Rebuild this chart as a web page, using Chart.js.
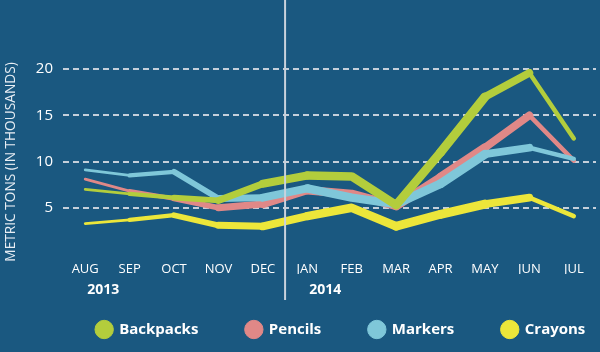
<!DOCTYPE html>
<html>
<head>
<meta charset="utf-8">
<script src="https://cdn.jsdelivr.net/npm/chart.js@4"></script>
<style>
  html, body { margin: 0; padding: 0; background: #1a5880; }
  #wrap { width: 600px; height: 352px; }
</style>
</head>
<body>
<div id="wrap"><canvas id="chart" width="600" height="352"></canvas></div>
<script>
const months = ["AUG", "SEP", "OCT", "NOV", "DEC", "JAN", "FEB", "MAR", "APR", "MAY", "JUN", "JUL"];
const years = [{ label: "2013", index: 0 }, { label: "2014", index: 5 }];
const backpacks = [7.0, 6.5, 6.1, 5.8, 7.6, 8.5, 8.4, 5.3, 11.0, 17.0, 19.6, 12.5];
const pencils = [8.1, 6.8, 6.0, 5.0, 5.4, 6.9, 6.5, 5.2, 8.3, 11.5, 15.0, 10.1];
const markers = [9.1, 8.5, 8.9, 6.0, 6.1, 7.1, 6.1, 5.4, 7.6, 10.8, 11.5, 10.3];
const crayons = [3.3, 3.7, 4.2, 3.1, 3.0, 4.1, 5.0, 3.0, 4.3, 5.4, 6.1, 4.1];
const yTicks = [5, 10, 15, 20];

const FONT = "'Open Sans', sans-serif";
// brush-like stroke: thin at the start, thick in the middle, thin at the end
const segWidths = [2, 3.5, 5, 6.5, 7.5, 8.5, 8.5, 8.5, 9, 9, 6.5, 2.5];

function serie(label, data, color, order) {
  return {
    label,
    data,
    order,
    borderColor: color,
    backgroundColor: color,
    borderCapStyle: "round",
    borderJoinStyle: "round",
    pointRadius: 0,
    tension: 0,
    fill: false,
    segment: {
      borderWidth: (ctx) => (segWidths[ctx.p0DataIndex] + segWidths[ctx.p1DataIndex]) / 2,
    },
  };
}

const extras = {
  id: "extras",
  afterLayout(chart) {
    // legend sits a bit right of centre in the original
    chart.legend.left += 43;
    chart.legend.right += 43;
  },
  afterDraw(chart) {
    const c = chart.ctx;
    const x = chart.scales.x;
    // separator between years
    const sepX = (x.getPixelForValue(4) + x.getPixelForValue(5)) / 2;
    c.save();
    c.strokeStyle = "#c9d2dc";
    c.lineWidth = 2;
    c.beginPath();
    c.moveTo(sepX, 0);
    c.lineTo(sepX, 300);
    c.stroke();

    // year labels
    c.fillStyle = "#ffffff";
    c.font = "bold 14px " + FONT;
    c.textAlign = "left";
    c.textBaseline = "middle";
    years.forEach((y) => {
      c.fillText(y.label, x.getPixelForValue(y.index) + 2, 290);
    });

    // y axis title
    c.translate(11, 162);
    c.rotate(-Math.PI / 2);
    c.textAlign = "center";
    c.font = "13.7px " + FONT;
    c.fillStyle = "#e8eef4";
    c.fillText("METRIC TONS (IN THOUSANDS)", 0, 0);
    c.restore();
  },
};

new Chart(document.getElementById("chart"), {
  type: "line",
  data: {
    labels: months,
    datasets: [
      serie("Backpacks", backpacks, "#b3cd3c", 0),
      serie("Pencils", pencils, "#e08887", 2),
      serie("Markers", markers, "#7fc7d9", 1),
      serie("Crayons", crayons, "#ece63a", 0),
    ],
  },
  options: {
    responsive: false,
    animation: false,
    layout: { padding: { left: 0, right: 4, top: 23, bottom: 5 } },
    scales: {
      x: {
        offset: true,
        grid: { display: false, drawTicks: false },
        border: { display: false },
        ticks: {
          color: "#ffffff",
          font: { family: FONT, size: 13 },
          padding: 7,
          maxRotation: 0,
        },
        afterFit(scale) { scale.height = 20; },
      },
      y: {
        min: 0,
        max: 25,
        afterBuildTicks(scale) { scale.ticks = yTicks.map((v) => ({ value: v })); },
        grid: {
          color: "#c5cfda",
          lineWidth: 2,
          drawTicks: false,
        },
        border: { display: false, dash: [6, 4] },
        ticks: {
          color: "#ffffff",
          font: { family: FONT, size: 15 },
          padding: 10,
        },
        afterFit(scale) { scale.width = 63; },
      },
    },
    plugins: {
      tooltip: { enabled: false },
      legend: {
        position: "bottom",
        labels: {
          color: "#ffffff",
          font: { family: FONT, size: 15, weight: "bold" },
          usePointStyle: true,
          pointStyle: "circle",
          boxHeight: 13,
          padding: 48,
          sort: (a, b) => a.datasetIndex - b.datasetIndex,
        },
      },
    },
  },
  plugins: [extras],
});
</script>
</body>
</html>
